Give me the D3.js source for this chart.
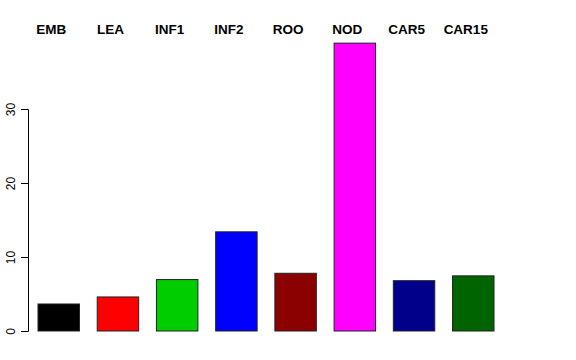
<!DOCTYPE html>
<html>
<head>
<meta charset="utf-8">
<script src="https://cdn.jsdelivr.net/npm/d3@7"></script>
<style>
  body { margin: 0; background: #fff; }
  svg { display: block; font-family: "Liberation Sans", Arial, sans-serif; }
</style>
</head>
<body>
<div id="chart"></div>
<script>
const width = 576;
const height = 360;

const categories = ["EMB", "LEA", "INF1", "INF2", "ROO", "NOD", "CAR5", "CAR15"];
const values = [3.65, 4.6, 6.95, 13.4, 7.8, 38.9, 6.8, 7.45];
const colors = ["#000000", "#ff0000", "#00cd00", "#0000ff", "#8b0000", "#ff00ff", "#00008b", "#006400"];
const yTicks = [0, 10, 20, 30];

let svg = d3.select("#chart").append("svg")
    .attr("width", width)
    .attr("height", height);

let xScale = d3.scaleBand()
    .domain(categories)
    .range([38, 494])
    .paddingInner(0.3)
    .paddingOuter(0);

let yScale = d3.scaleLinear()
    .domain([0, 30])
    .range([331, 109]);

// y axis, R style
let yAxis = svg.append("g")
    .attr("transform", "translate(28,0)")
    .call(d3.axisLeft(yScale).tickValues(yTicks).tickSize(7).tickPadding(4));

yAxis.select(".domain").attr("stroke", "#000");
yAxis.selectAll(".tick line").attr("stroke", "#000");
yAxis.selectAll(".tick text")
    .attr("font-size", "12px")
    .attr("fill", "#000")
    .attr("text-anchor", "middle")
    .attr("x", 0)
    .attr("dy", 0)
    .attr("transform", "translate(-16,0) rotate(-90)")
    .attr("dominant-baseline", "middle");

// bars
svg.selectAll("rect.bar")
    .data(categories)
    .enter()
    .append("rect")
    .attr("class", "bar")
    .attr("x", d => xScale(d))
    .attr("y", (d, i) => yScale(values[i]))
    .attr("width", xScale.bandwidth())
    .attr("height", (d, i) => yScale(0) - yScale(values[i]))
    .attr("fill", (d, i) => colors[i])
    .attr("stroke", "#222")
    .attr("stroke-width", 1);

// labels along the top
svg.selectAll("text.lab")
    .data(categories)
    .enter()
    .append("text")
    .attr("class", "lab")
    .attr("x", d => xScale(d) + xScale.bandwidth() / 2 - 7.5)
    .attr("y", 34)
    .attr("text-anchor", "middle")
    .attr("font-size", "13.5px")
    .attr("font-weight", "bold")
    .attr("fill", "#000")
    .text(d => d);
</script>
</body>
</html>
